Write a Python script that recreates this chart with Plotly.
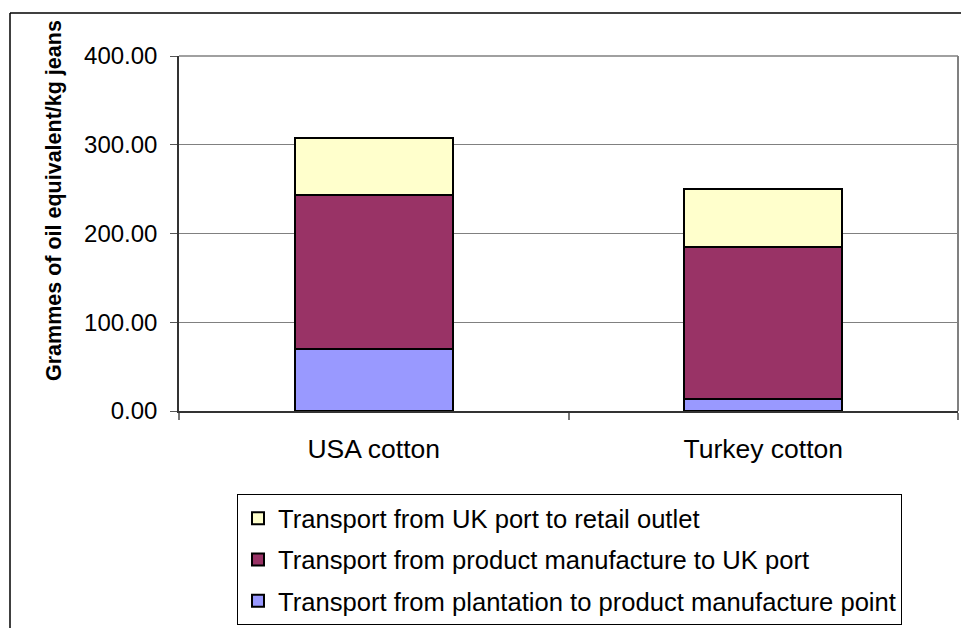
import plotly.graph_objects as go

categories = ["USA cotton", "Turkey cotton"]
plantation_to_manufacture = [70.0, 13.5]
manufacture_to_uk_port = [173.0, 171.0]
uk_port_to_retail = [65.0, 65.5]

series_names = [
    "Transport from plantation to product manufacture point",
    "Transport from product manufacture to UK port",
    "Transport from UK port to retail outlet",
]
series_values = [plantation_to_manufacture, manufacture_to_uk_port, uk_port_to_retail]
series_colors = ["#9999FF", "#993366", "#FFFFCC"]
legend_ranks = [3, 2, 1]

y_ticks = [0, 100, 200, 300, 400]
y_tick_labels = ["0.00", "100.00", "200.00", "300.00", "400.00"]

W, H = 961, 628
L, R, T, B = 179, 958, 56, 411

fig = go.Figure()
for name, vals, col, rk in zip(series_names, series_values, series_colors, legend_ranks):
    fig.add_trace(go.Bar(
        x=categories, y=vals, name=name, legendgroup=name, legendrank=rk,
        marker=dict(color=col, line=dict(color="black", width=2)),
    ))

def px_x(p):
    return (p - L) / (R - L)

def px_y(p):
    return (B - p) / (B - T)

fam = "Liberation Sans, Arial, sans-serif"
tick_font = dict(family=fam, size=24, color="black")
cat_font = dict(family=fam, size=26.5, color="black")
legend_font = dict(family=fam, size=25.6, color="black")
title_font = dict(family=fam, size=21.5, color="black")

fig.update_layout(
    width=W, height=H,
    margin=dict(l=L, r=W - R, t=T, b=H - B, pad=0),
    paper_bgcolor="white", plot_bgcolor="white",
    barmode="stack", bargap=0.595,
    font=tick_font,
    showlegend=True,
    legend=dict(
        traceorder="grouped", tracegroupgap=5,
        bordercolor="black", borderwidth=1, bgcolor="white",
        x=px_x(237), y=px_y(494), xanchor="left", yanchor="top",
        font=legend_font, itemwidth=30,
    ),
    xaxis=dict(
        showline=True, linecolor="#333333", linewidth=1.5,
        ticks="outside", tickson="boundaries", ticklen=7, tickcolor="#777777",
        tickwidth=1.5, showgrid=False, ticklabelstandoff=13, tickfont=cat_font,
        automargin=False,
    ),
    yaxis=dict(
        range=[0, 400], tickvals=y_ticks, ticktext=y_tick_labels,
        showline=True, linecolor="#333333", linewidth=1.5,
        ticks="outside", ticklen=7, tickcolor="#555555", tickwidth=1,
        showgrid=True, gridcolor="#808080", gridwidth=1,
        zeroline=False, ticklabelstandoff=8, tickfont=tick_font,
        automargin=False,
    ),
    shapes=[
        dict(type="line", xref="paper", yref="paper", x0=0, x1=1, y0=1, y1=1,
             line=dict(color="#808080", width=1.5)),
        dict(type="line", xref="paper", yref="paper", x0=1, x1=1, y0=0, y1=1,
             line=dict(color="#808080", width=2)),
        dict(type="line", xref="paper", yref="paper", x0=px_x(10), x1=px_x(961),
             y0=px_y(13), y1=px_y(13), line=dict(color="black", width=1.5)),
        dict(type="line", xref="paper", yref="paper", x0=px_x(10), x1=px_x(10),
             y0=px_y(13), y1=px_y(628), line=dict(color="black", width=1.5)),
    ],
    annotations=[
        dict(text="<b>Grammes of oil equivalent/kg jeans</b>", textangle=-90,
             xref="paper", yref="paper", x=px_x(54), y=px_y(201),
             xanchor="center", yanchor="middle", showarrow=False, font=title_font),
    ],
)

fig.write_html("out.html")
